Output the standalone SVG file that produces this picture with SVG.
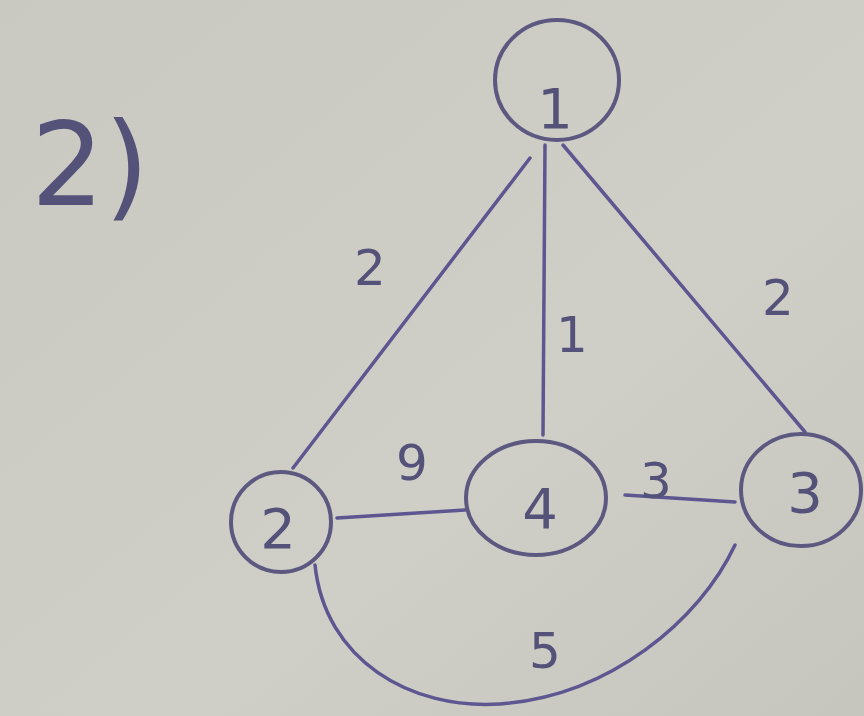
<svg xmlns="http://www.w3.org/2000/svg" width="864" height="716" viewBox="0 0 864 716">
<defs>
<linearGradient id="bg" x1="0" y1="0" x2="1" y2="1">
<stop offset="0" stop-color="#c9c9c1"/>
<stop offset="0.6" stop-color="#cfcfc8"/>
<stop offset="1" stop-color="#c6c6be"/>
</linearGradient>
</defs>
<style>
.node{fill:none;stroke:#5c5880;stroke-width:4}
.edge{fill:none;stroke:#5d5690;stroke-width:3.5;stroke-linecap:round}
.t{font-family:"DejaVu Sans",sans-serif;fill:#55527a;text-anchor:middle}
.w{font-size:50px}
.n{font-size:56px}
</style>
<rect width="864" height="716" fill="url(#bg)"/>
<text class="t" x="90" y="205" font-size="115">2)</text>
<g id="edges">
<path class="edge" d="M530,158 L293,468"/>
<path class="edge" d="M545,145 L543,435"/>
<path class="edge" d="M563,145 L805,432"/>
<path class="edge" d="M337,518 L465,510"/>
<path class="edge" d="M625,495 L735,502"/>
<path class="edge" d="M315,565 C325,660 410,710 500,704 C610,696 700,620 735,545"/>
<text class="t w" x="370" y="285">2</text>
<text class="t w" x="572" y="352">1</text>
<text class="t w" x="778" y="315">2</text>
<text class="t w" x="412" y="480">9</text>
<text class="t w" x="656" y="498">3</text>
<text class="t w" x="545" y="668">5</text>
</g>
<g id="node1">
<ellipse class="node" cx="557" cy="80" rx="62" ry="60"/>
<text class="t n" x="555" y="128">1</text>
</g>
<g id="node2">
<ellipse class="node" cx="281" cy="522" rx="50" ry="50"/>
<text class="t n" x="278" y="548">2</text>
</g>
<g id="node4">
<ellipse class="node" cx="536" cy="498" rx="70" ry="57"/>
<text class="t n" x="540" y="528">4</text>
</g>
<g id="node3">
<ellipse class="node" cx="801" cy="490" rx="60" ry="56"/>
<text class="t n" x="805" y="512">3</text>
</g>
</svg>
